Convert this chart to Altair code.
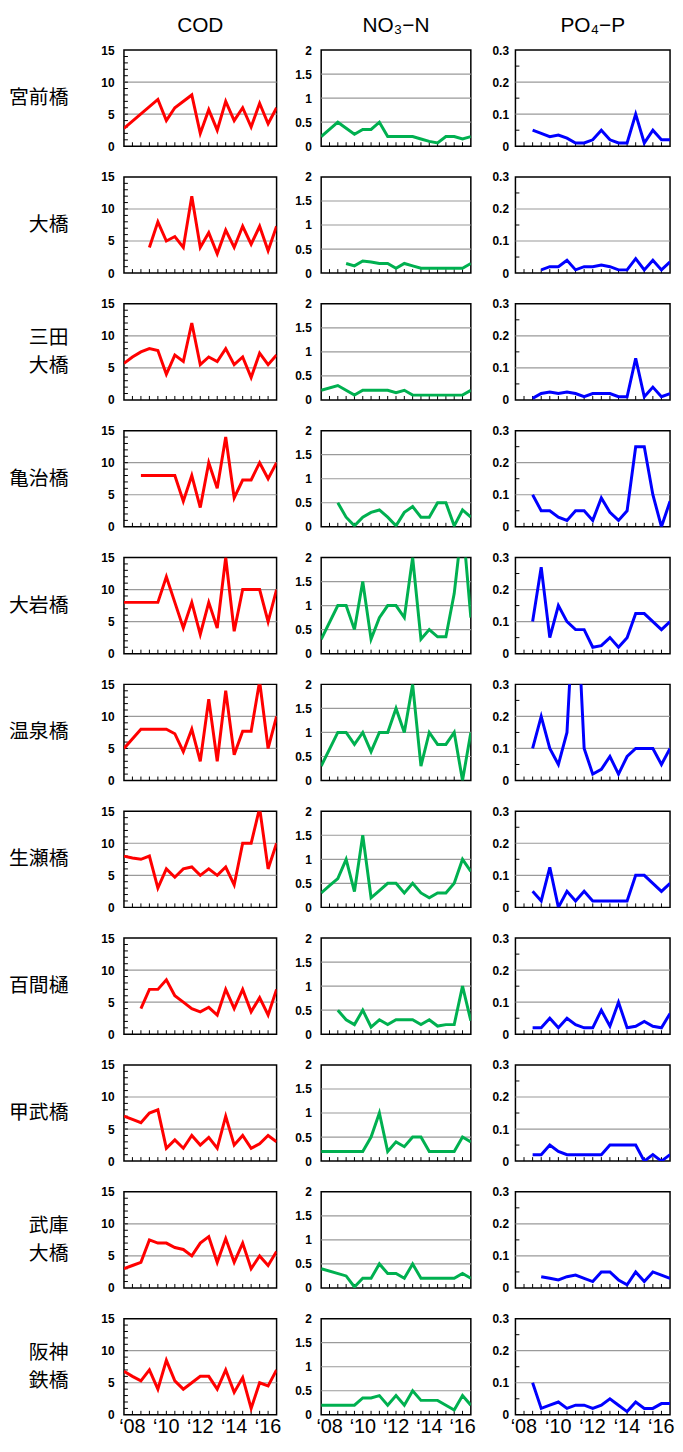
import json
import altair as alt
import pandas as pd

N = None
# half-year sampling index 0..18 (2008 .. 2016 second half)
idx = list(range(19))
xlabels = ["‘08", "‘10", "‘12", "‘14", "‘16"]
xlabel_pos = [0, 4, 8, 12, 16]

stations = ["宮前橋", "大橋", "三田\n大橋", "亀治橋", "大岩橋", "温泉橋",
            "生瀬橋", "百間樋", "甲武橋", "武庫\n大橋", "阪神\n鉄橋"]
params = ["COD", "NO₃−N", "PO₄−P"]

cod_miyamae = [2.8, N, N, N, 7.3, 4, 6, N, 8, 2, 5.7, 2.5, 7, 4, 6, 3, 6.7, 3.5, 6]
no3_miyamae = [0.2, N, 0.5, N, 0.25, 0.35, 0.35, 0.5, 0.2, 0.2, 0.2, 0.2, 0.15, 0.1, 0.07, 0.2, 0.2, 0.15, 0.2]
po4_miyamae = [N, N, 0.05, 0.04, 0.03, 0.035, 0.025, 0.01, 0.01, 0.02, 0.05, 0.02, 0.01, 0.01, 0.1, 0.01, 0.05, 0.02, 0.02]

cod_ohashi = [N, N, N, 4, 8, 5, 5.7, 4, 12, 4, 6.3, 3, 6.7, 4, 7.3, 4.5, 7.3, 3.5, 7.3]
no3_ohashi = [N, N, N, 0.2, 0.15, 0.25, 0.23, 0.2, 0.2, 0.1, 0.2, 0.15, 0.1, 0.1, 0.1, 0.1, 0.1, 0.1, 0.2]
po4_ohashi = [N, N, N, 0.01, 0.02, 0.02, 0.04, 0.01, 0.02, 0.02, 0.025, 0.02, 0.01, 0.01, 0.045, 0.01, 0.04, 0.01, 0.035]

cod_sanda = [5.7, 6.7, 7.5, 8, 7.7, 4, 7, 6, 12, 5.5, 6.7, 6, 8, 5.5, 6.7, 3.5, 7.3, 5.5, 7]
no3_sanda = [0.2, N, 0.3, N, 0.1, 0.2, 0.2, 0.2, 0.2, 0.15, 0.2, 0.1, 0.1, 0.1, 0.1, 0.1, 0.1, 0.1, 0.2]
po4_sanda = [N, N, 0.005, 0.02, 0.025, 0.02, 0.025, 0.02, 0.01, 0.02, 0.02, 0.02, 0.01, 0.01, 0.13, 0.01, 0.04, 0.01, 0.02]

cod_kameji = [N, N, 8, 8, 8, 8, 8, 4, 8, 3, 10, 6, 14, 4.5, 7.3, 7.3, 10, 7.5, 10]
no3_kameji = [N, N, 0.5, 0.2, 0.02, 0.2, 0.3, 0.35, 0.2, 0.02, 0.3, 0.42, 0.2, 0.2, 0.5, 0.5, 0.02, 0.35, 0.2]
po4_kameji = [N, N, 0.1, 0.05, 0.05, 0.03, 0.02, 0.05, 0.05, 0.02, 0.09, 0.045, 0.02, 0.05, 0.25, 0.25, 0.1, 0.0, 0.08]

cod_oiwa = [8, 8, 8, 8, 8, 12, 8, 4, 8, 3, 8, 4, 15, 3.5, 10, 10, 10, 5, 10]
no3_oiwa = [0.3, N, 1, 1, 0.5, 1.5, 0.3, 0.75, 1, 1, 0.75, 2, 0.3, 0.5, 0.35, 0.35, 1.25, 2.75, 0.75]
po4_oiwa = [N, N, 0.1, 0.27, 0.05, 0.15, 0.1, 0.075, 0.075, 0.02, 0.025, 0.05, 0.02, 0.05, 0.125, 0.125, 0.1, 0.075, 0.1]

cod_onsen = [5, N, 8, 8, 8, 8, 7.3, 4.5, 8, 3, 12.7, 3, 14, 4, 7.7, 7.7, 15.5, 5, 10]
no3_onsen = [0.3, N, 1, 1, 0.75, 1, 0.6, 1, 1, 1.5, 1, 2, 0.3, 1, 0.75, 0.75, 1, 0, 1]
po4_onsen = [N, N, 0.1, 0.2, 0.1, 0.05, 0.15, 0.65, 0.1, 0.02, 0.035, 0.075, 0.02, 0.075, 0.1, 0.1, 0.1, 0.05, 0.1]

cod_namaze = [8, 7.7, 7.5, 8, 3, 6, 4.7, 6, 6.3, 5, 6, 5, 6.3, 3.5, 10, 10, 15.5, 6, 10]
no3_namaze = [0.3, 0.45, 0.6, 1, 0.33, 1.5, 0.2, 0.35, 0.5, 0.5, 0.3, 0.5, 0.3, 0.2, 0.3, 0.3, 0.5, 1, 0.75]
po4_namaze = [N, N, 0.05, 0.02, 0.125, 0.0, 0.05, 0.02, 0.05, 0.02, 0.02, 0.02, 0.02, 0.02, 0.1, 0.1, 0.075, 0.05, 0.075]

cod_hyakken = [N, N, 4, 7, 7, 8.5, 6, 5, 4, 3.5, 4.2, 3, 7, 4, 7, 3.5, 5.7, 3, 7]
no3_hyakken = [N, N, 0.5, 0.3, 0.2, 0.5, 0.15, 0.3, 0.2, 0.3, 0.3, 0.3, 0.2, 0.3, 0.17, 0.2, 0.2, 1, 0.28]
po4_hyakken = [N, N, 0.02, 0.02, 0.05, 0.02, 0.05, 0.03, 0.02, 0.02, 0.075, 0.025, 0.1, 0.02, 0.025, 0.04, 0.025, 0.02, 0.065]

cod_kobu = [7, 6.5, 6, 7.5, 8, 2, 3.3, 2, 4, 2.5, 3.7, 2, 7, 2.5, 4, 2, 2.7, 4, 3]
no3_kobu = [0.2, 0.2, 0.2, 0.2, 0.2, 0.2, 0.5, 1, 0.2, 0.4, 0.3, 0.5, 0.5, 0.2, 0.2, 0.2, 0.2, 0.5, 0.4]
po4_kobu = [N, N, 0.02, 0.02, 0.05, 0.03, 0.02, 0.02, 0.02, 0.02, 0.02, 0.05, 0.05, 0.05, 0.05, 0.0, 0.02, 0.0, 0.02]

cod_muko = [3, 3.5, 4, 7.5, 7, 7, 6.3, 6, 5, 7, 8, 4, 7.7, 4, 7, 3, 5, 3.5, 5.7]
no3_muko = [0.4, N, N, 0.25, 0.02, 0.2, 0.2, 0.5, 0.3, 0.3, 0.2, 0.5, 0.2, 0.2, 0.2, 0.2, 0.2, 0.3, 0.2]
po4_muko = [N, N, N, 0.035, 0.03, 0.025, 0.035, 0.04, 0.03, 0.02, 0.05, 0.05, 0.025, 0.01, 0.05, 0.02, 0.05, 0.04, 0.03]

cod_hanshin = [6.8, 6, 5.3, 7, 4, 8.5, 5.3, 4, 5, 6, 6, 4, 7, 3.5, 5.8, 1, 5, 4.5, 7]
no3_hanshin = [0.2, 0.2, 0.2, 0.2, 0.2, 0.35, 0.35, 0.4, 0.2, 0.4, 0.2, 0.5, 0.3, 0.3, 0.3, 0.2, 0.1, 0.4, 0.2]
po4_hanshin = [N, N, 0.1, 0.02, 0.03, 0.04, 0.02, 0.03, 0.03, 0.02, 0.03, 0.05, 0.03, 0.01, 0.04, 0.02, 0.02, 0.035, 0.035]

cod_series = [cod_miyamae, cod_ohashi, cod_sanda, cod_kameji, cod_oiwa, cod_onsen,
              cod_namaze, cod_hyakken, cod_kobu, cod_muko, cod_hanshin]
no3_series = [no3_miyamae, no3_ohashi, no3_sanda, no3_kameji, no3_oiwa, no3_onsen,
              no3_namaze, no3_hyakken, no3_kobu, no3_muko, no3_hanshin]
po4_series = [po4_miyamae, po4_ohashi, po4_sanda, po4_kameji, po4_oiwa, po4_onsen,
              po4_namaze, po4_hyakken, po4_kobu, po4_muko, po4_hanshin]

cod_ticks = [0, 5, 10, 15]
no3_ticks = [0, 0.5, 1, 1.5, 2]
po4_ticks = [0, 0.1, 0.2, 0.3]
cod_grid = [5, 10]
no3_grid = [0.5, 1, 1.5]
po4_grid = [0.1, 0.2]
cod_minor = list(range(1, 15))
po4_minor = [0.05, 0.15, 0.25]

series = [cod_series, no3_series, po4_series]
ticks = [cod_ticks, no3_ticks, po4_ticks]
grids = [cod_grid, no3_grid, po4_grid]
minors = [cod_minor, [], po4_minor]
domains = [[0, 15], [0, 2], [0, 0.3]]
colors = ["#FF0000", "#00B050", "#0000FF"]
widths = [154, 151, 156]
label_pad = [10, 10, 7]

H = 97
LABEL_W = 71
LINE_H = 28

label_expr = (json.dumps(xlabels, ensure_ascii=False) + "[indexof("
              + json.dumps(xlabel_pos) + ", datum.value)]")


def panel(p, r):
    W = widths[p]
    last = r == len(stations) - 1
    vals = series[p][r]
    df = pd.DataFrame({"t": [i for i, v in zip(idx, vals) if v is not None],
                       "v": [v for v in vals if v is not None]})
    xs = alt.Scale(domain=[0, 18], nice=False, zero=False)
    ys = alt.Scale(domain=domains[p], nice=False)
    if last:
        xaxis = alt.Axis(values=xlabel_pos, labelExpr=label_expr, ticks=False,
                         domain=False, grid=False, title=None, labelFontSize=20,
                         labelFont="Liberation Sans", labelColor="black",
                         labelPadding=2, labelOffset=8, labelFlush=False)
    else:
        xaxis = None
    yaxis = alt.Axis(values=ticks[p], format="~g", ticks=False, domain=False,
                     grid=False, title=None, labelFontSize=12,
                     labelFontWeight="bold", labelFont="Liberation Sans",
                     labelColor="black", labelPadding=label_pad[p], labelFlush=False)

    grid = alt.Chart(pd.DataFrame({"v": grids[p]})).mark_rule(
        color="#9a9a9a", strokeWidth=1.2
    ).encode(y=alt.Y("v:Q", scale=ys, axis=yaxis))
    xt = alt.Chart(pd.DataFrame({"t": idx[1:-1]})).mark_rule(
        color="black", strokeWidth=1
    ).encode(x=alt.X("t:Q", scale=xs, axis=xaxis), y=alt.value(H - 4), y2=alt.value(H))
    layers = [grid, xt]
    if minors[p]:
        yt = alt.Chart(pd.DataFrame({"v": minors[p]})).mark_rule(
            color="black", strokeWidth=1
        ).encode(y=alt.Y("v:Q", scale=ys, axis=yaxis), x=alt.value(0), x2=alt.value(4))
        layers.append(yt)
    line = alt.Chart(df).mark_line(color=colors[p], strokeWidth=3, clip=True).encode(
        x=alt.X("t:Q", scale=xs, axis=xaxis),
        y=alt.Y("v:Q", scale=ys, axis=yaxis),
    )
    layers.append(line)
    props = dict(width=W, height=H,
                 view=alt.ViewBackground(stroke="black", strokeWidth=1.5))
    if r == 0:
        props["title"] = alt.TitleParams(params[p], fontSize=21, font="Liberation Sans",
                                         fontWeight="normal", color="black",
                                         offset=8, anchor="middle")
    return alt.layer(*layers).properties(**props)


def label_cell(r):
    n_lines = stations[r].count("\n") + 1
    return alt.Chart(pd.DataFrame({"s": [stations[r]]})).mark_text(
        align="right", baseline="middle", fontSize=20, font="Noto Sans CJK JP",
        lineBreak="\n", lineHeight=LINE_H, color="black",
        dy=-(n_lines - 1) * LINE_H / 2
    ).encode(text="s:N", x=alt.value(LABEL_W - 11), y=alt.value(H / 2)).properties(
        width=LABEL_W, height=H, view=alt.ViewBackground(stroke="transparent")
    )


cells = []
for r in range(len(stations)):
    cells.append(label_cell(r))
    for p in range(3):
        cells.append(panel(p, r))

chart = alt.concat(*cells, columns=4, spacing={"row": 31, "column": 45},
                   bounds="flush").properties(
    padding={"top": 0, "left": 0, "right": 0, "bottom": 0}
).configure_view(stroke="black")

chart.save("out.html", embed_options={"renderer": "svg", "actions": False})
